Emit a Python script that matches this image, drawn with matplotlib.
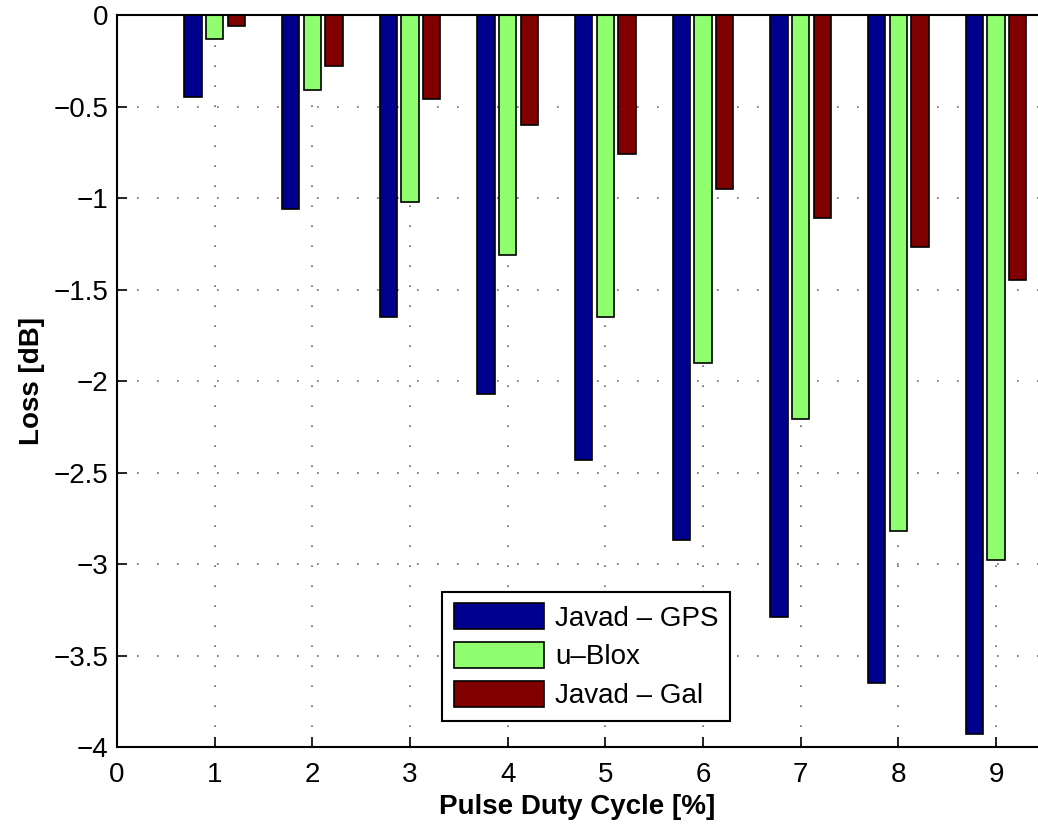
import matplotlib

matplotlib.use("Agg")

import matplotlib.pyplot as plt
import numpy as np
from matplotlib.ticker import FuncFormatter

duty_cycle = [1, 2, 3, 4, 5, 6, 7, 8, 9]
javad_gps = [-0.45, -1.06, -1.65, -2.07, -2.43, -2.87, -3.29, -3.65, -3.93]
ublox = [-0.13, -0.41, -1.02, -1.31, -1.65, -1.90, -2.21, -2.82, -2.98]
javad_gal = [-0.06, -0.28, -0.46, -0.60, -0.76, -0.95, -1.11, -1.27, -1.45]
series_names = ["Javad \u2013 GPS", "u\u2013Blox", "Javad \u2013 Gal"]
colors = ["#00008F", "#8FFF70", "#800000"]

plt.rcParams["font.family"] = ["Liberation Sans", "DejaVu Sans"]
plt.rcParams["font.size"] = 20


def fmt_tick(v, _pos):
    return f"{v:g}".replace("-", "\u2212")


fig = plt.figure(figsize=(10.38, 8.25), dpi=100)
ax = fig.add_axes([0.1127, 0.0945, 0.8873, 0.8873])

# grouped bars in the old MATLAB layout: group width 2/3, bar fill 80 %
spacing = 2.0 / 3.0 / 3.0
width = spacing * 0.8
x = np.array(duty_cycle, dtype=float)
for i, (vals, name, col) in enumerate(zip([javad_gps, ublox, javad_gal], series_names, colors)):
    ax.bar(x + (i - 1) * spacing, vals, width=width, color=col,
           edgecolor="black", linewidth=1.2, label=name, zorder=2)

ax.set_xlim(0, 9.43)
ax.set_ylim(-4, 0)
ax.set_xticks(range(0, 10))
ax.set_yticks(np.arange(-4, 0.01, 0.5))
ax.yaxis.set_major_formatter(FuncFormatter(fmt_tick))
ax.xaxis.set_major_formatter(FuncFormatter(fmt_tick))

ax.set_axisbelow(True)
ax.grid(True, color="#666666", linestyle=(0, (1, 11)), linewidth=1.2)

ax.tick_params(direction="in", length=7, width=1.2, labelsize=20)
ax.tick_params(axis="x", pad=11)
ax.tick_params(axis="y", pad=6)
for side in ["left", "bottom", "top"]:
    ax.spines[side].set_linewidth(1.5)
ax.spines["right"].set_visible(False)

ax.set_xlabel("Pulse Duty Cycle [%]", fontweight="bold", fontsize=20, labelpad=4)
ax.set_ylabel("Loss [dB]", fontweight="bold", fontsize=20, labelpad=6)

leg = ax.legend(loc="lower left", bbox_to_anchor=(0.353, 0.0355), borderaxespad=0,
                fancybox=False, framealpha=1, edgecolor="black", fontsize=20,
                handlelength=3.25, handleheight=1.05, handletextpad=0.4,
                labelspacing=0.38, borderpad=0.42)
leg.get_frame().set_linewidth(1.5)

fig.savefig("out.png", dpi=100)
plt.close(fig)
